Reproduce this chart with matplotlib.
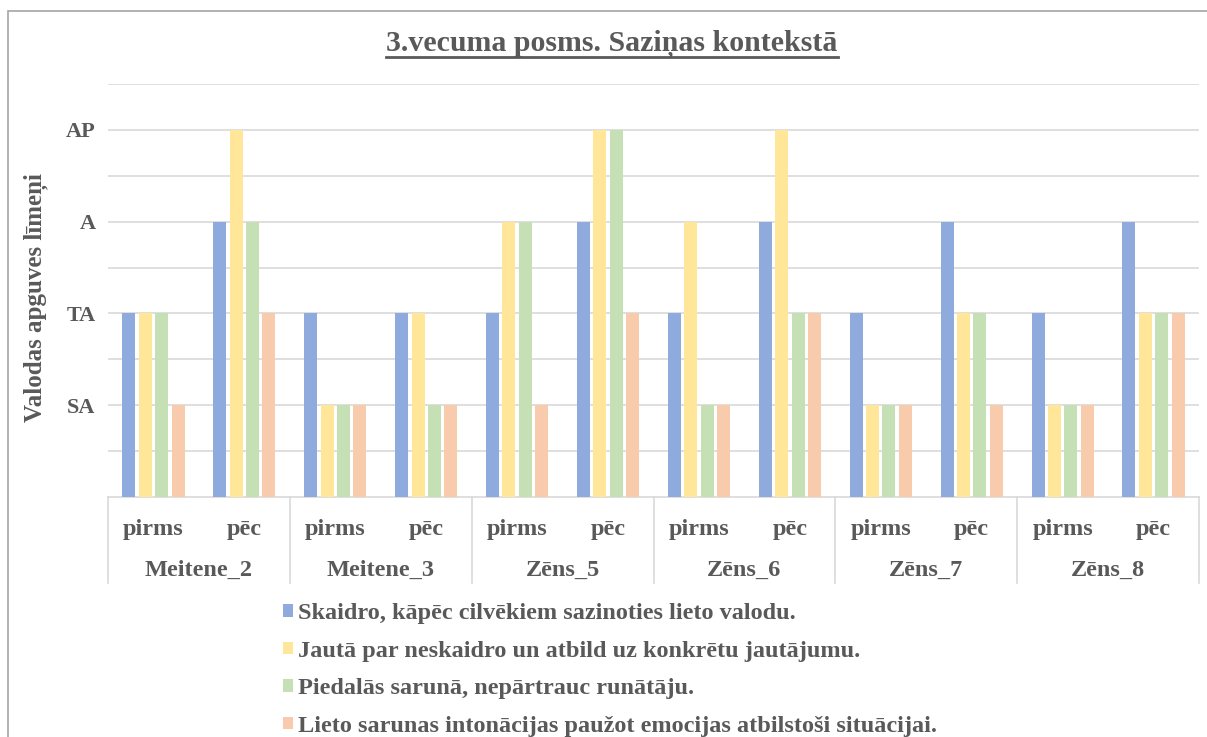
import matplotlib
matplotlib.use("Agg")
import matplotlib.pyplot as plt
from matplotlib.patches import Rectangle
from matplotlib.lines import Line2D
import numpy as np

title = "3.vecuma posms. Saziņas kontekstā"
ylabel = "Valodas apguves līmeņi"
groups = ["Meitene_2", "Meitene_3", "Zēns_5", "Zēns_6", "Zēns_7", "Zēns_8"]
phases = ["pirms", "pēc"]
level_labels = ["SA", "TA", "A", "AP"]
level_values = [1, 2, 3, 4]

series_names = [
    "Skaidro, kāpēc cilvēkiem sazinoties lieto valodu.",
    "Jautā par neskaidro un atbild uz konkrētu jautājumu.",
    "Piedalās sarunā, nepārtrauc runātāju.",
    "Lieto sarunas intonācijas paužot emocijas atbilstoši situācijai.",
]
# order: M2 pirms, M2 pēc, M3 pirms, M3 pēc, Z5 pirms, Z5 pēc, Z6 pirms, Z6 pēc, Z7 pirms, Z7 pēc, Z8 pirms, Z8 pēc
s_skaidro = [2, 3, 2, 2, 2, 3, 2, 3, 2, 3, 2, 3]
s_jauta   = [2, 4, 1, 2, 3, 4, 3, 4, 1, 2, 1, 2]
s_pieda   = [2, 3, 1, 1, 3, 4, 1, 2, 1, 2, 1, 2]
s_lieto   = [1, 2, 1, 1, 1, 2, 1, 2, 1, 1, 1, 2]
series = [s_skaidro, s_jauta, s_pieda, s_lieto]
colors = ["#8FAADC", "#FFE699", "#C5E0B4", "#F8CBAD"]

W, H = 1207, 737
fig = plt.figure(figsize=(W / 100, H / 100), dpi=100)
serif = ["Liberation Serif", "DejaVu Serif"]
txtc = "#595959"

# outer chart frame
fig.patches.append(Rectangle((8 / W, -0.05), 1.2, (H - 11) / H + 0.05,
                             transform=fig.transFigure, fill=False,
                             edgecolor="#A6A6A6", lw=1.2))

x0, x1, ytop, ybot = 108, 1199, 84, 497
ax = fig.add_axes([x0 / W, (H - ybot) / H, (x1 - x0) / W, (ybot - ytop) / H])
n = len(s_skaidro)
xs = np.arange(n) + 0.5
bw = 0.143
for k, (vals, c) in enumerate(zip(series, colors)):
    ax.bar(xs + (k - 1.5) * 0.18, vals, width=bw, color=c, zorder=3,
           label=series_names[k])

ax.set_xlim(0, n)
ax.set_ylim(0, 4.5)
ax.set_yticks(level_values)
ax.set_yticklabels(level_labels, fontfamily=serif, fontweight="bold",
                   fontsize=16, color=txtc)
ax.set_yticks(np.arange(0.5, 4.6, 0.5), minor=True)
ax.tick_params(axis="y", which="both", length=0, pad=9)
ax.grid(axis="y", which="both", color="#D9D9D9", lw=1.2, zorder=0)
ax.set_xticks([])
for s in ["top", "right", "left"]:
    ax.spines[s].set_visible(False)
ax.spines["bottom"].set_color("#D9D9D9")
ax.spines["bottom"].set_linewidth(1.2)

ax.text((36 - x0) / (x1 - x0), (ybot - 298) / (ybot - ytop), ylabel,
        transform=ax.transAxes, rotation=90,
        ha="center", va="center", fontfamily=serif, fontweight="bold",
        fontsize=18, color=txtc)

# category axis labels and separators
axh = ybot - ytop
trans = ax.get_xaxis_transform()
sep_depth = (583 - ybot) / axh
for i in range(len(groups) + 1):
    ax.add_line(Line2D([2 * i, 2 * i], [0, -sep_depth], transform=trans,
                       color="#D9D9D9", lw=1.2, clip_on=False))
for i, x in enumerate(xs):
    ax.text(x, -(529 - ybot) / axh, phases[i % 2], transform=trans,
            ha="center", va="center", fontfamily=serif, fontweight="bold",
            fontsize=17.5, color=txtc)
for g, name in enumerate(groups):
    ax.text(2 * g + 1, -(570 - ybot) / axh, name, transform=trans,
            ha="center", va="center", fontfamily=serif, fontweight="bold",
            fontsize=17.5, color=txtc)

# title with underline
t = fig.text(612 / W, 1 - 44 / H, title, ha="center", va="center",
             fontfamily=serif, fontweight="bold", fontsize=21.5, color=txtc)
fig.canvas.draw()
bb = t.get_window_extent()
uy = (bb.y0 + 1) / H
fig.add_artist(Line2D([bb.x0 / W, bb.x1 / W], [uy, uy], transform=fig.transFigure,
                      color=txtc, lw=2))

# legend
handles, labels = ax.get_legend_handles_labels()
leg = fig.legend(handles, labels, loc="upper left",
                 bbox_to_anchor=(266 / W, 1 - 586 / H), frameon=False,
                 prop={"family": serif, "weight": "bold", "size": 17.5},
                 handlelength=0.42, handleheight=0.42, handletextpad=0.2,
                 labelspacing=0.68, borderpad=0.2)
for txt in leg.get_texts():
    txt.set_color(txtc)

fig.savefig("out.png", dpi=100)
